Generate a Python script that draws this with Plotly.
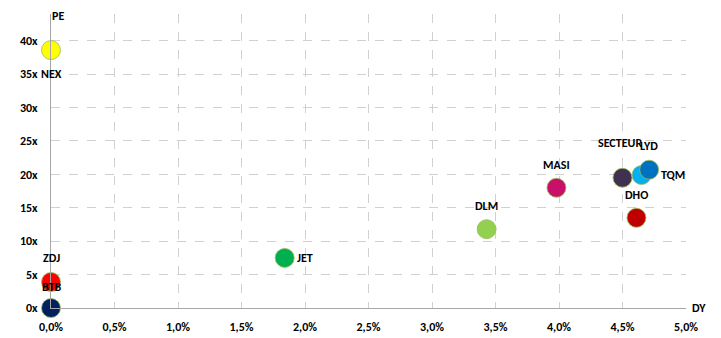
import plotly.graph_objects as go

# Dividend yield (%) vs PE (x)
names = ['NEX', 'ZDJ', 'BTB', 'JET', 'DLM', 'MASI', 'DHO', 'SECTEUR', 'TQM', 'LYD']
dy = [0.0, 0.0, 0.0, 1.84, 3.43, 3.98, 4.61, 4.50, 4.65, 4.71]
pe = [38.6, 3.9, 0.0, 7.5, 11.8, 18.0, 13.5, 19.5, 19.9, 20.7]
colors = ['#FFFF00', '#FF0000', '#002060', '#00B050', '#92D050',
          '#C8106A', '#C00000', '#403151', '#00B0F0', '#0070C0']

# label placement (style only): (xshift, yshift, xanchor)
label_pos = {
    'NEX': (0, -24, 'center'),
    'ZDJ': (0, 24, 'center'),
    'BTB': (0, 21, 'center'),
    'JET': (10, 0, 'left'),
    'DLM': (0, 23, 'center'),
    'MASI': (0, 23, 'center'),
    'DHO': (0, 23, 'center'),
    'SECTEUR': (-3, 35, 'center'),
    'TQM': (17, 0, 'left'),
    'LYD': (0, 24, 'center'),
}

FONT = "Carlito, Calibri, 'Liberation Sans Narrow', 'DejaVu Sans Condensed', Arial"

fig = go.Figure()
fig.add_trace(go.Scatter(
    x=dy, y=pe, mode='markers',
    marker=dict(size=19, color=colors,
                line=dict(color='rgba(155,187,89,0.8)', width=1), opacity=1),
    cliponaxis=False, showlegend=False, hoverinfo='text', text=names))

annots = []
for n, xv, yv in zip(names, dy, pe):
    xs, ys, xa = label_pos[n]
    annots.append(dict(x=xv, y=yv, text='<b>' + n + '</b>', showarrow=False,
                       xshift=xs, yshift=ys, xanchor=xa, yanchor='middle',
                       font=dict(size=12, color='#000000', family=FONT)))
annots.append(dict(x=0, y=1, xref='paper', yref='paper', text='<b>PE</b>',
                   showarrow=False, xanchor='left', yanchor='top', yshift=6,
                   borderpad=0,
                   font=dict(size=12, color='#000000', family=FONT)))
annots.append(dict(x=1, y=0, xref='paper', yref='paper', text='<b>DY</b>',
                   showarrow=False, xanchor='left', yanchor='middle', xshift=4,
                   font=dict(size=12, color='#000000', family=FONT)))

grid = dict(showgrid=True, gridcolor='#D0D0D0', griddash='dash', gridwidth=1,
            zeroline=False, showline=True, linecolor='#A6A6A6', linewidth=1,
            automargin=False,
            tickfont=dict(size=12, color='#000000', family=FONT))

# page body has an 8px margin, so the figure is a bit smaller and shifted
fig.update_layout(
    width=713, height=330,
    margin=dict(l=43, r=35, t=6, b=30),
    plot_bgcolor='white', paper_bgcolor='white',
    separators=', ',
    annotations=annots,
    xaxis=dict(range=[0, 5], dtick=0.5, tickformat='.1f',
               ticklabelstandoff=8, **grid),
    yaxis=dict(range=[0, 44], dtick=5, tick0=0,
               ticklabelstandoff=10, **grid),
)
fig.update_xaxes(tickprefix='<b>', ticksuffix='%</b>')
fig.update_yaxes(tickprefix='<b>', ticksuffix='x</b>')
fig.write_html("out.html")
